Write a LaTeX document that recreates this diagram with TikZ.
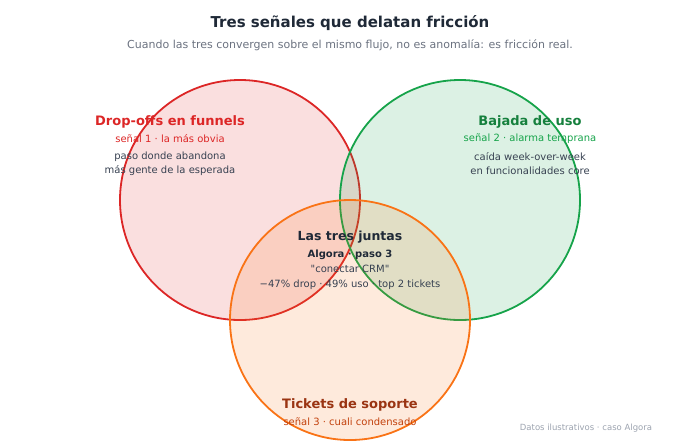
\documentclass[tikz,border=0pt]{standalone}
\usepackage{fontspec}
\setmainfont{DejaVu Sans}[Ligatures=TeXOff]
\definecolor{ink}{HTML}{1F2937}
\definecolor{body}{HTML}{374151}
\definecolor{muted}{HTML}{6B7280}
\definecolor{faint}{HTML}{9CA3AF}
\definecolor{redc}{HTML}{DC2626}
\definecolor{greenc}{HTML}{16A34A}
\definecolor{greend}{HTML}{15803D}
\definecolor{orangec}{HTML}{F97316}
\definecolor{oranged}{HTML}{9A3412}
\definecolor{orangem}{HTML}{C2410C}
\begin{document}
\begin{tikzpicture}[x=1pt,y=-1pt,
    ring/.style={line width=1.8pt,fill opacity=.15},
    head/.style={font=\fontsize{13}{15}\selectfont\bfseries},
    tag/.style={font=\fontsize{10}{12}\selectfont},
    note/.style={font=\fontsize{10}{14}\selectfont,text=body,align=center}]
    \useasboundingbox (0,0) rectangle (700,440);
    % the three signals
    \draw[ring,redc,fill=redc] (240,200) circle[radius=120];
    \draw[ring,greenc,fill=greenc] (460,200) circle[radius=120];
    \draw[ring,orangec,fill=orangec] (350,320) circle[radius=120];
    % title
    \node[text=ink,font=\fontsize{15}{17}\selectfont\bfseries] (title) at (350,23) {Tres señales que delatan fricción};
    \node[text=muted,font=\fontsize{11}{13}\selectfont] (sub) at (350,45) {Cuando las tres convergen sobre el mismo flujo, no es anomalía: es fricción real.};
    % red
    \node[head,text=redc] (drop) at (170,121.5) {Drop-offs en funnels};
    \node[tag,text=redc] (droptag) at (170,139) {señal 1 · la más obvia};
    \node[note] (dropnote) at (170,164) {paso donde abandona\\más gente de la esperada};
    % green
    \node[head,text=greend] (uso) at (530,121.5) {Bajada de uso};
    \node[tag,text=greenc] (usotag) at (530,139) {señal 2 · alarma temprana};
    \node[note] (usonote) at (530,164) {caída week-over-week\\en funcionalidades core};
    % center
    \node[text=ink,font=\fontsize{12.5}{14}\selectfont\bfseries] (all) at (350,237.5) {Las tres juntas};
    \node[text=ink,font=\fontsize{10}{12}\selectfont\bfseries] (paso) at (350,255) {Algora · paso 3};
    \node[note] (crm) at (350,269) {"conectar CRM"};
    \node[note] (nums) at (350,285) {−47\% drop · 49\% uso · top 2 tickets};
    % orange
    \node[head,text=oranged] (tickets) at (350,404.5) {Tickets de soporte};
    \node[tag,text=orangem] (tickettag) at (350,422) {señal 3 · cuali condensado};
    % footnote
    \node[text=faint,font=\fontsize{8.5}{10}\selectfont] (foot) at (586,428) {Datos ilustrativos · caso Algora};
\end{tikzpicture}
\end{document}
